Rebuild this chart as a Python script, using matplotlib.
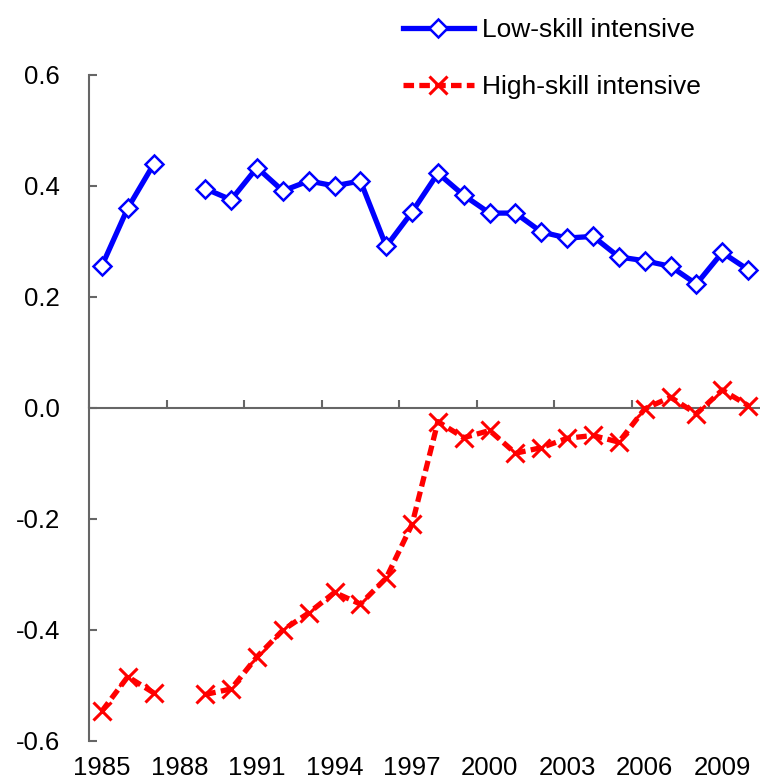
import numpy as np
import matplotlib
matplotlib.use("Agg")
import matplotlib.pyplot as plt
from matplotlib.ticker import FixedLocator

plt.rcParams['font.family'] = ['Liberation Sans', 'DejaVu Sans']

years = list(range(1985, 2011))
# 1988 is missing in both series
low_skill = [0.256, 0.360, 0.439, np.nan, 0.395, 0.375, 0.433, 0.391, 0.409, 0.400,
             0.409, 0.291, 0.353, 0.423, 0.383, 0.351, 0.351, 0.317, 0.306, 0.309,
             0.272, 0.265, 0.255, 0.223, 0.280, 0.249]
high_skill = [-0.547, -0.485, -0.514, np.nan, -0.517, -0.507, -0.449, -0.401, -0.370, -0.333,
              -0.354, -0.307, -0.210, -0.025, -0.054, -0.041, -0.082, -0.072, -0.055, -0.050,
              -0.062, -0.002, 0.019, -0.011, 0.032, 0.004]
series_names = ["Low-skill intensive", "High-skill intensive"]

x = np.arange(len(years))
axis_col = '#666666'

fig = plt.figure(figsize=(7.6, 7.82), dpi=100)
ax = fig.add_axes([89/760, 41.5/782, 672/760, 665.5/782])

ax.plot(x, low_skill, color='#0000ff', lw=3.8, marker='D', markersize=9,
        markerfacecolor='white', markeredgecolor='#0000ff', markeredgewidth=1.8,
        label=series_names[0], zorder=3)
ax.plot(x, high_skill, color='#ff0000', lw=3.8, dashes=(2, 1), marker='x',
        markersize=13, markeredgewidth=2.2, markeredgecolor='#ff0000',
        label=series_names[1], zorder=3)

ax.set_xlim(-0.5, len(years) - 0.5)
ax.set_ylim(-0.6, 0.6)
ax.set_yticks(np.arange(-0.6, 0.61, 0.2))
ax.set_yticklabels([f"{v:.1f}" for v in np.arange(-0.6, 0.61, 0.2)])

for s in ['top', 'right']:
    ax.spines[s].set_visible(False)
ax.spines['left'].set_color(axis_col)
ax.spines['left'].set_linewidth(1.5)
ax.spines['bottom'].set_position(('data', 0))
ax.spines['bottom'].set_color(axis_col)
ax.spines['bottom'].set_linewidth(1.5)

ax.xaxis.set_major_locator(FixedLocator(x[::3]))
ax.set_xticklabels([str(y) for y in years[::3]])
ax.xaxis.set_minor_locator(FixedLocator(np.arange(-0.5, len(years), 3)))
ax.tick_params(axis='x', which='major', length=0, pad=251, labelsize=18.5)
ax.tick_params(axis='x', which='minor', direction='in', length=5.8, width=1.5, color=axis_col)
ax.tick_params(axis='y', direction='in', length=5.8, width=1.5, color=axis_col,
               labelsize=18.5, pad=21)

fig.legend(loc='upper left', bbox_to_anchor=(387/760, 1.0 - 2/782), frameon=False,
           fontsize=19, handlelength=2.7, handletextpad=0.3, labelspacing=1.25,
           numpoints=1, borderaxespad=0.2)

fig.savefig('out.png', dpi=100)
